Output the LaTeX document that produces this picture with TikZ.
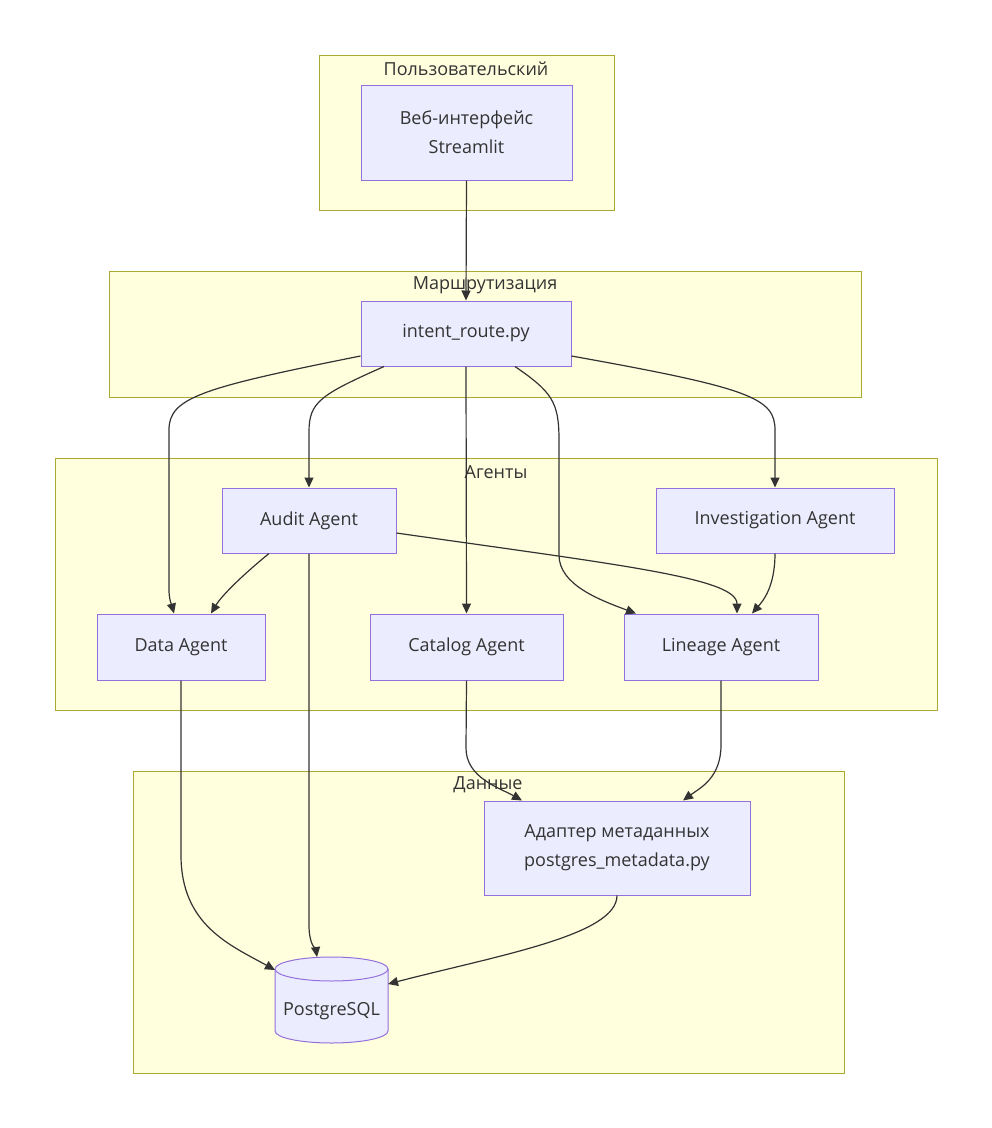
\documentclass[tikz,border=0pt]{standalone}
\usepackage{fontspec}
\setmainfont{Open Sans}
\usetikzlibrary{arrows.meta}
\definecolor{clfill}{HTML}{FFFFDE}
\definecolor{cldraw}{HTML}{AAAA33}
\definecolor{ndfill}{HTML}{ECECFF}
\definecolor{nddraw}{HTML}{9370DB}
\definecolor{txt}{HTML}{333333}
\definecolor{edge}{HTML}{333333}
\tikzset{
  cluster/.style={fill=clfill, draw=cldraw, line width=1pt},
  cltitle/.style={text=txt, font=\fontsize{18}{20}\selectfont, inner sep=0pt},
  box/.style={fill=ndfill, draw=nddraw, line width=1pt, text=txt, font=\fontsize{18}{29}\selectfont, align=center, inner sep=0pt},
  link/.style={draw=edge, line width=1.2pt, -{Stealth[length=10pt,width=9pt,inset=0pt]}}
}
\begin{document}
\begin{tikzpicture}[x=1pt,y=-1pt]
\useasboundingbox (0,0) rectangle (992,1128);
% clusters
\draw[cluster] (319,55) rectangle (614,210);
\draw[cluster] (109,271) rectangle (861,397);
\draw[cluster] (55,458) rectangle (937,710);
\draw[cluster] (133,771) rectangle (844,1073);
\node[cltitle] (t1) at (466,69) {Пользовательский};
\node[cltitle] (t2) at (485,285) {Маршрутизация};
\node[cltitle] (t3) at (496,472) {Агенты};
\node[cltitle] (t4) at (488,785) {Данные};
% nodes
\node[box, minimum width=211pt, minimum height=95pt] (web) at (466.5,132.5) {Веб-интерфейс\\Streamlit};
\node[box, minimum width=210pt, minimum height=65pt] (intent) at (466,333.5) {intent\_route.py};
\node[box, minimum width=174pt, minimum height=65pt] (audit) at (309,520.5) {Audit Agent};
\node[box, minimum width=238pt, minimum height=65pt] (inv) at (775,520.5) {Investigation Agent};
\node[box, minimum width=168pt, minimum height=66pt] (data) at (181,647) {Data Agent};
\node[box, minimum width=193pt, minimum height=66pt] (cat) at (466.5,647) {Catalog Agent};
\node[box, minimum width=194pt, minimum height=66pt] (lin) at (721,647) {Lineage Agent};
\node[box, minimum width=266pt, minimum height=94pt] (adapt) at (617,848) {Адаптер метаданных\\postgres\_metadata.py};
% cylinder
\path[fill=ndfill, draw=nddraw, line width=1pt] (275,969) -- (275,1031) arc[start angle=180, end angle=0, x radius=56.5, y radius=12] -- (388,969) arc[start angle=0, end angle=-180, x radius=56.5, y radius=12] -- cycle;
\draw[nddraw, line width=1pt] (275,969) arc[start angle=180, end angle=0, x radius=56.5, y radius=12];
\node[text=txt, font=\fontsize{18}{20}\selectfont, inner sep=0pt, minimum width=113pt, minimum height=62pt] (pg) at (331.5,1011) {PostgreSQL};
% edges
\draw[link] (web.south) -- (intent.north);
\draw[link] ([yshift=-22.5pt]intent.west) .. controls (200,388) and (169,398) .. (169,430) -- (169,590) .. controls (169,600) and (172,606) .. ([xshift=-7pt]data.north);
\draw[link] ([xshift=-82pt]intent.south) .. controls (320,395) and (309,402) .. (309,432) -- (audit.north);
\draw[link] (intent.south) -- (cat.north);
\draw[link] ([xshift=49pt]intent.south) .. controls (552,392) and (559,402) .. (559,440) -- (559,555) .. controls (559,585) and (600,600) .. ([xshift=-85pt]lin.north);
\draw[link] ([yshift=-22.5pt]intent.east) .. controls (750,388) and (775,398) .. (775,430) -- (inv.north);
\draw[link] ([xshift=-40pt]audit.south) .. controls (245,573) and (222,595) .. ([xshift=30pt]data.north);
\draw[link] ([yshift=-12.5pt]audit.east) .. controls (620,565) and (737,578) .. ([xshift=16pt]lin.north);
\draw[link] (inv.south) .. controls (775,588) and (762,602) .. ([xshift=31pt]lin.north);
\draw[link] (audit.south) -- (309,925) .. controls (309,945) and (316,950) .. ([xshift=-14.5pt,yshift=54pt]pg.center);
\draw[link] (data.south) -- (181,855) .. controls (181,925) and (230,945) .. ([xshift=-56.5pt,yshift=41pt]pg.center);
\draw[link] (cat.south) -- (466,748) .. controls (466,778) and (500,788) .. ([xshift=-95pt]adapt.north);
\draw[link] (lin.south) -- (721,745) .. controls (721,778) and (700,788) .. ([xshift=66pt]adapt.north);
\draw[link] (adapt.south) .. controls (617,935) and (500,955) .. ([xshift=56.5pt,yshift=27pt]pg.center);
\end{tikzpicture}
\end{document}
